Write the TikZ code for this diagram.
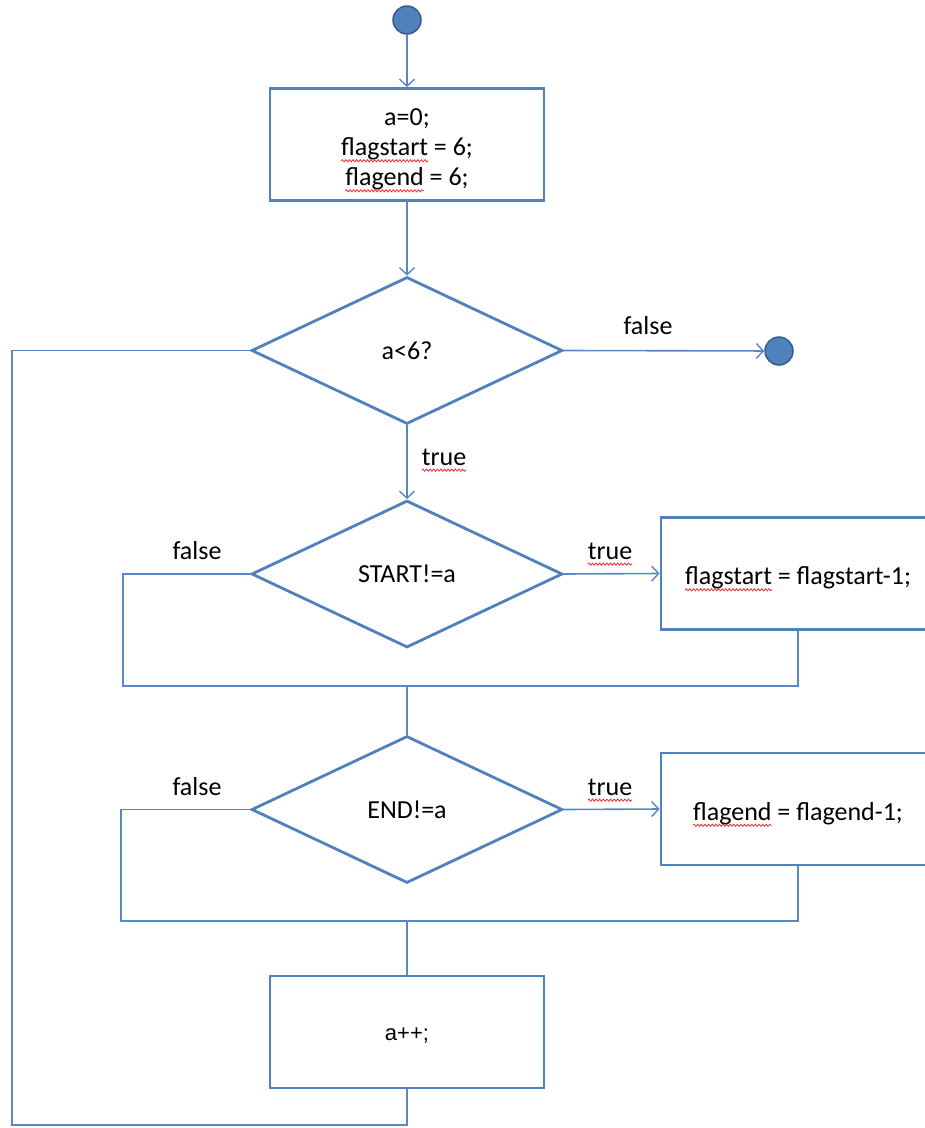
\documentclass[tikz,border=0pt]{standalone}
\usepackage{fontspec}
\setmainfont{Carlito}
\newfontfamily\incfont{Liberation Sans}
\usetikzlibrary{shapes.geometric,arrows.meta,decorations.pathmorphing}
\definecolor{lineblue}{RGB}{79,129,189}
\definecolor{connblue}{RGB}{90,135,195}
\definecolor{darkblue}{RGB}{56,93,138}
\definecolor{spellred}{RGB}{235,50,50}
\newcommand\spellwave[1]{\tikz[baseline=(w.base)]{\node[inner sep=0pt,outer sep=0pt,draw=none,minimum size=0pt](w){#1};\draw[overlay,spellred,line width=0.8pt,decorate,decoration={snake,amplitude=1.1pt,segment length=3.6pt}] ([yshift=-5pt]w.base west) -- ([yshift=-5pt]w.base east);}}
\newcommand\tallstrut{\rule{0pt}{27pt}}
\begin{document}
\begin{tikzpicture}[x=1pt,y=-1pt,
  font=\fontsize{26}{30}\selectfont,
  box/.style={draw=lineblue, line width=2.8pt, minimum width=274pt, minimum height=112pt, inner sep=0pt, align=center},
  dia/.style={draw=lineblue, line width=2.8pt, diamond, aspect=2.115, minimum width=311pt, minimum height=147pt, inner sep=0pt},
  circ/.style={circle, fill=lineblue, draw=darkblue, line width=1.5pt, minimum size=28pt, inner sep=0pt},
  conn/.style={draw=connblue, line width=1.6pt},
  arr/.style={conn, -{Straight Barb[length=7pt,width=15pt,line width=1.4pt]}},
  lbl/.style={inner sep=0pt}]
\clip (0,0) rectangle (925,1128);
\useasboundingbox (0,0) rectangle (925,1128);
\node[circ] (start) at (407,20) {};
\node[box] (init) at (407,144.5) {\tallstrut a=0;\\ \spellwave{flagstart} = 6;\\ \spellwave{flagend} = 6;};
\node[dia] (d1) at (407,350.5) {a<6?};
\node[circ] (end) at (779,351) {};
\node[dia] (d2) at (407,574) {START!=a};
\node[box] (b2) at (798,573.5) {\tallstrut\spellwave{flagstart} = flagstart-1;};
\node[dia] (d3) at (407,809.5) {END!=a};
\node[box] (b3) at (798,809) {\tallstrut\spellwave{flagend} = flagend-1;};
\node[box, font=\incfont\fontsize{22}{26}\selectfont] (inc) at (407,1032) {\rule{0pt}{20pt}a++;};
\coordinate (j1) at (407,686);
\coordinate (f1) at (123,686);
\coordinate (j2) at (407,921);
\coordinate (f2) at (121,921);
\coordinate (lb) at (12,1125);
\draw[arr] (start) -- (init);
\draw[arr] (init) -- (d1);
\draw[arr] (d1.east) -- (end);
\draw[arr] (d1.south) -- (d2.north);
\draw[arr] (d2.east) -- (b2.west);
\draw[conn] (b2.south) |- (f1) |- (d2.west);
\draw[conn] (j1) -- (d3.north);
\draw[arr] (d3.east) -- (b3.west);
\draw[conn] (b3.south) |- (f2) |- (d3.west);
\draw[conn] (j2) -- (inc.north);
\draw[conn] (inc.south) |- (lb) |- (d1.west);
\node[lbl] (l1) at (648,326) {false};
\node[lbl] (l2) at (444,457) {\spellwave{true}};
\node[lbl] (l3) at (197,551) {false};
\node[lbl] (l4) at (610,551) {\spellwave{true}};
\node[lbl] (l5) at (197,787) {false};
\node[lbl] (l6) at (610,787) {\spellwave{true}};
\end{tikzpicture}
\end{document}
